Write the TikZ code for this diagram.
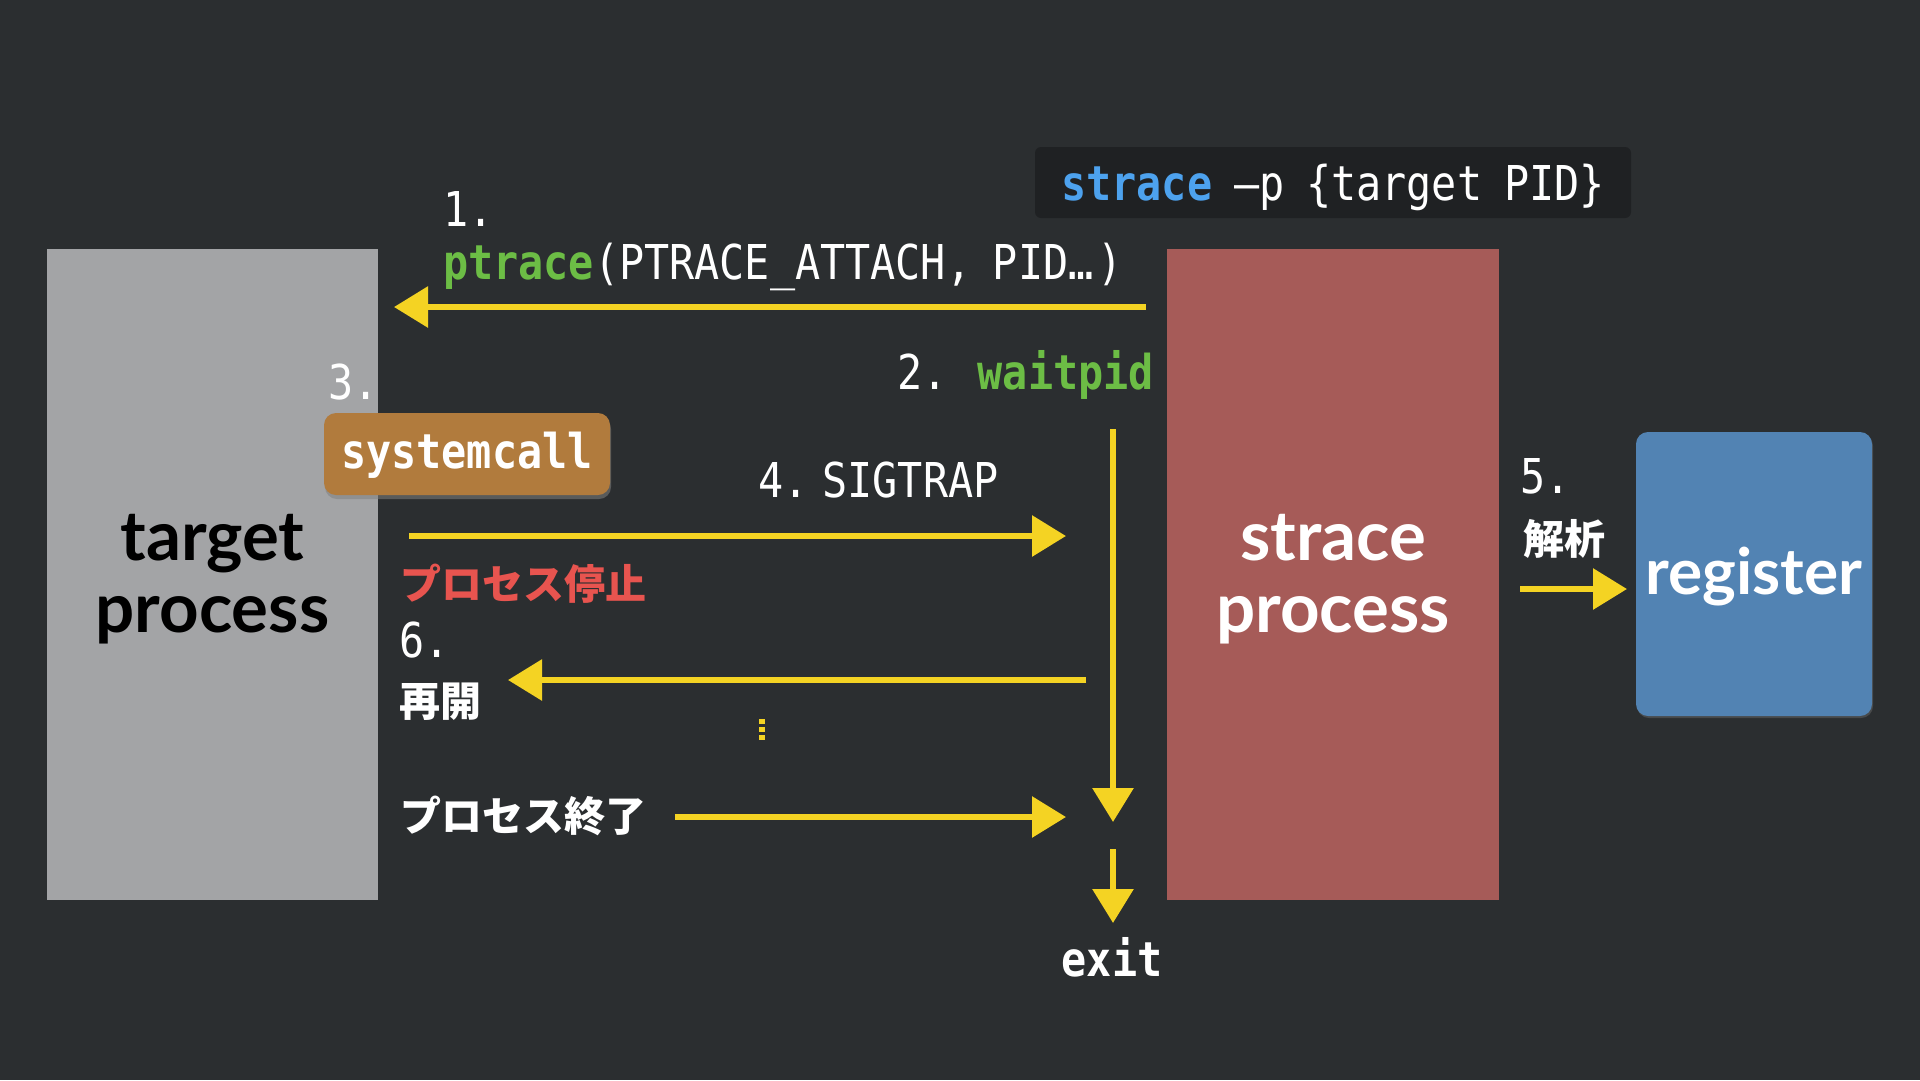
\documentclass[tikz,border=0pt]{standalone}
\usepackage{fontspec}
\setmainfont{Lato}
\newfontfamily\codefont[FakeStretch=0.87, WordSpace=0.87]{DejaVu Sans Mono}
\newfontfamily\cjk{Noto Sans CJK JP}
\usetikzlibrary{arrows.meta,shadows}
\definecolor{bg}{HTML}{2B2E30}
\definecolor{tgray}{HTML}{A3A4A6}
\definecolor{sred}{HTML}{A65B58}
\definecolor{rblue}{HTML}{5283B3}
\definecolor{sysbrown}{HTML}{B17B3D}
\definecolor{codebg}{HTML}{1F2123}
\definecolor{codegreen}{HTML}{6CBD45}
\definecolor{codeblue}{HTML}{4DA2EE}
\definecolor{stopred}{HTML}{E8544F}
\definecolor{chalkyellow}{HTML}{F4D323}
\tikzset{
  procbox/.style={inner sep=0pt},
  proctext/.style={inner sep=0pt, anchor=base, font=\bfseries\fontsize{69}{72}\selectfont},
  lbl/.style={text=white, inner sep=0pt, anchor=base west, font=\codefont\fontsize{48}{52}\selectfont},
  jp/.style={inner sep=0pt, anchor=west, font=\cjk\bfseries\fontsize{41}{46}\selectfont},
  chalk/.style={draw=chalkyellow, line width=6pt, -{Triangle[length=34pt,width=40pt]}},
}
\begin{document}
\begin{tikzpicture}[x=1pt,y=-1pt]
\fill[bg] (0,0) rectangle (1920,1080);
\useasboundingbox (0,0) rectangle (1920,1080);

% main boxes
\node[procbox, fill=tgray, minimum width=331pt, minimum height=651pt] (tp) at (212.5,574.5) {};
\node[proctext, text=black] (tpa) at (212.5,560) {target};
\node[proctext, text=black] (tpb) at (212.5,632) {process};

\node[procbox, fill=sred, minimum width=332pt, minimum height=651pt] (sp) at (1333,574.5) {};
\node[proctext, text=white] (spa) at (1333,560) {strace};
\node[proctext, text=white] (spb) at (1333,632) {process};

\node[procbox, fill=rblue, rounded corners=12pt, minimum width=236pt, minimum height=284pt,
      drop shadow={opacity=0.35, shadow xshift=1pt, shadow yshift=-2pt}] (reg) at (1754,574) {};
\node[proctext, text=white, font=\bfseries\fontsize{64}{70}\selectfont] (regt) at (1754,594) {register};

% command box
\node[fill=codebg, rounded corners=6pt, minimum width=596pt, minimum height=71pt, inner sep=0pt,
      text height=35pt, text depth=0pt, text=white, font=\codefont\fontsize{48}{52}\selectfont] (cmd) at (1333,182.5)
      {{\bfseries\color{codeblue}strace} –p \{target PID\}};

% systemcall box
\node[fill=sysbrown, rounded corners=12pt, minimum width=286pt, minimum height=82pt, inner sep=0pt,
      text height=28pt, text depth=0pt, text=white, font=\codefont\bfseries\fontsize{48}{52}\selectfont,
      drop shadow={opacity=0.55, shadow xshift=1pt, shadow yshift=-4pt}] (sys) at (467,454) {systemcall};

% labels
\node[lbl] (n1) at (443,226) {1.};
\node[lbl] (n1b) at (443,279) {{\bfseries\color{codegreen}ptrace}(PTRACE\_ATTACH, PID…\hspace{4pt})};
\node[lbl] (n2) at (897,389) {2. {\bfseries\color{codegreen}waitpid}};
\node[lbl] (n3) at (328,399) {3.};
\node[lbl] (n4) at (758,497) {4.\hspace{14pt}SIGTRAP};
\node[lbl] (n6) at (399,657) {6.};
\node[lbl] (n5) at (1520,493) {5.};
\node[lbl, anchor=base] (exit) at (1112,976) {\bfseries exit};

\node[jp, text=stopred] (stop) at (400,584) {プロセス停止};
\node[jp, text=white] (resume) at (399,702) {再開};
\node[jp, text=white] (term) at (400,816) {プロセス終了};
\node[jp, text=white] (anal) at (1523,539) {解析};

% arrow end points
\coordinate (a1s) at (1146,307);
\coordinate (a1e) at (394,307);
\coordinate (wvs) at (1113,429);
\coordinate (wve) at (1113,822);
\coordinate (xs) at (1113,849);
\coordinate (xe) at (1113,923);
\coordinate (a4s) at (409,536);
\coordinate (a4e) at (1066,536);
\coordinate (a6s) at (1086,680);
\coordinate (a6e) at (508,680);
\coordinate (ats) at (675,817);
\coordinate (ate) at (1066,817);
\coordinate (a5s) at (1520,589);
\coordinate (a5e) at (1627,589);

\draw[chalk] (a1s) -- (a1e);
\draw[chalk] (wvs) -- (wve);
\draw[chalk] (xs) -- (xe);
\draw[chalk] (a4s) -- (a4e);
\draw[chalk] (a6s) -- (a6e);
\draw[chalk] (ats) -- (ate);
\draw[chalk] (a5s) -- (a5e);

% vertical ellipsis
\fill[chalkyellow] (759,719) rectangle ++(6,5);
\fill[chalkyellow] (759,727) rectangle ++(6,5);
\fill[chalkyellow] (759,735) rectangle ++(6,5);
\end{tikzpicture}
\end{document}
